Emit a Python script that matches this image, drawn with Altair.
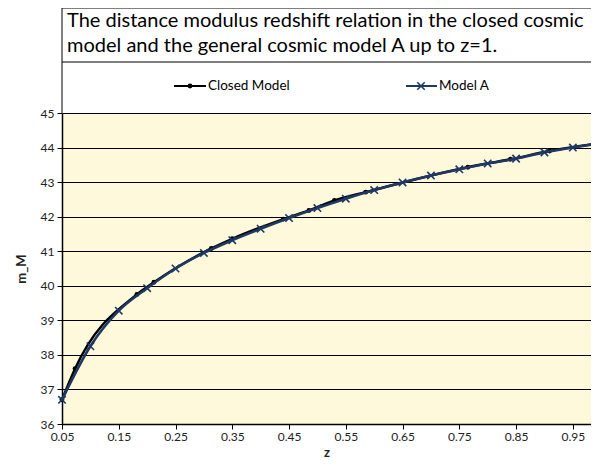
import altair as alt
import pandas as pd

# ---- data ----
z_model_a = [0.05, 0.10, 0.15, 0.20, 0.25, 0.30, 0.35, 0.40, 0.45, 0.50,
             0.55, 0.60, 0.65, 0.70, 0.75, 0.80, 0.85, 0.90, 0.95, 1.00]
m_model_a = [36.70, 38.25, 39.28, 39.93, 40.50, 40.95, 41.32, 41.65, 41.96, 42.25,
             42.52, 42.77, 42.99, 43.19, 43.37, 43.54, 43.68, 43.86, 44.00, 44.13]

z_closed = [0.05, 0.073, 0.182, 0.212, 0.313, 0.35, 0.44, 0.485, 0.53, 0.585,
            0.765, 0.84, 0.909, 1.00]
m_closed = [36.70, 37.60, 39.75, 40.10, 41.08, 41.36, 41.93, 42.18, 42.47, 42.71,
            43.43, 43.66, 43.90, 44.13]

x_ticks = [0.05, 0.15, 0.25, 0.35, 0.45, 0.55, 0.65, 0.75, 0.85, 0.95]
y_ticks = [36, 37, 38, 39, 40, 41, 42, 43, 44, 45]

title_lines = ["The distance modulus redshift relation in the closed cosmic",
               "model and the general cosmic model A up to z=1."]
legend_labels = ["Closed Model", "Model A"]

FONT = "Lato"
NAVY = "#1F3864"

df_a = pd.DataFrame({"z": z_model_a, "m": m_model_a})
df_c = pd.DataFrame({"z": z_closed, "m": m_closed})
one = pd.DataFrame({"k": [0]})

W, H = 529, 311

xs = alt.Scale(domain=[0.05, 0.982], nice=False, zero=False)
ys = alt.Scale(domain=[36, 45], nice=False, zero=False)

x_enc = alt.X("z:Q", scale=xs, axis=alt.Axis(
    values=x_ticks, format=".2f", title="z", grid=False,
    labelFont=FONT, labelFontSize=12, labelColor="#222",
    titleFont=FONT, titleFontSize=13, titleFontWeight="bold", titleColor="#222",
    titlePadding=4, tickSize=5, tickColor="#000", domainColor="#000",
    domainWidth=1.5, labelPadding=2, labelFlush=False))
y_enc = alt.Y("m:Q", scale=ys, axis=alt.Axis(
    values=y_ticks, title="m_M", grid=True, gridColor="#000", gridWidth=1,
    labelFont=FONT, labelFontSize=12, labelColor="#222",
    titleFont=FONT, titleFontSize=13, titleFontWeight="bold", titleColor="#222",
    titlePadding=12, tickSize=5, tickColor="#000", domainColor="#000",
    domainWidth=1.5, labelPadding=3))

closed_line = alt.Chart(df_c).mark_line(
    color="#000", strokeWidth=2.5, interpolate="monotone"
).encode(x=x_enc, y=y_enc)
closed_pts = alt.Chart(df_c).mark_point(
    shape="circle", filled=True, color="#000", size=24, opacity=1
).encode(x=x_enc, y=y_enc)
a_line = alt.Chart(df_a).mark_line(
    color=NAVY, strokeWidth=2.6, interpolate="monotone"
).encode(x=x_enc, y=y_enc)
XSHAPE = "M-1,-1L1,1M1,-1L-1,1"
a_pts = alt.Chart(df_a).mark_point(
    shape=XSHAPE, filled=False, color=NAVY, size=55, strokeWidth=1.6, opacity=1
).encode(x=x_enc, y=y_enc)

# ---- title box & legend (pixel space, above the plot) ----
box = alt.Chart(one).mark_rect(fill="white", stroke="#000", strokeWidth=1).encode(
    x=alt.value(0), x2=alt.value(600), y=alt.value(-105), y2=alt.value(-51))
legend_border = alt.Chart(one).mark_rule(color="#000", strokeWidth=1).encode(
    x=alt.value(0), y=alt.value(-51), y2=alt.value(0))

title_1 = alt.Chart(one).mark_text(
    align="left", baseline="middle", font=FONT, fontSize=20, color="#000"
).encode(text=alt.value(title_lines[0]), x=alt.value(5), y=alt.value(-92))
title_2 = alt.Chart(one).mark_text(
    align="left", baseline="middle", font=FONT, fontSize=20, color="#000"
).encode(text=alt.value(title_lines[1]), x=alt.value(5), y=alt.value(-67))

leg_y = -27
leg_c_line = alt.Chart(one).mark_rule(color="#000", strokeWidth=2).encode(
    x=alt.value(112), x2=alt.value(144), y=alt.value(leg_y))
leg_c_pt = alt.Chart(one).mark_point(shape="circle", filled=True, color="#000",
                                     size=24, opacity=1).encode(
    x=alt.value(128), y=alt.value(leg_y))
leg_c_txt = alt.Chart(one).mark_text(
    align="left", baseline="middle", font=FONT, fontSize=13.5, color="#000"
).encode(text=alt.value(legend_labels[0]), x=alt.value(146), y=alt.value(leg_y))
leg_a_line = alt.Chart(one).mark_rule(color=NAVY, strokeWidth=2).encode(
    x=alt.value(344), x2=alt.value(375), y=alt.value(leg_y))
leg_a_pt = alt.Chart(one).mark_point(shape=XSHAPE, filled=False, color=NAVY,
                                     size=55, strokeWidth=1.6, opacity=1).encode(
    x=alt.value(359), y=alt.value(leg_y))
leg_a_txt = alt.Chart(one).mark_text(
    align="left", baseline="middle", font=FONT, fontSize=13.5, color="#000"
).encode(text=alt.value(legend_labels[1]), x=alt.value(377), y=alt.value(leg_y))

chart = alt.layer(
    closed_line, closed_pts, a_line, a_pts,
    box, legend_border, title_1, title_2,
    leg_c_line, leg_c_pt, leg_c_txt, leg_a_line, leg_a_pt, leg_a_txt
).properties(
    width=W, height=H,
    autosize=alt.AutoSizeParams(type="none"),
    padding={"left": 54, "top": 105, "right": 0, "bottom": 36},
    background="white",
).configure_view(stroke=None, fill="#FFF9DB")

chart.save("out.html", embed_options={"renderer": "svg", "actions": False})
